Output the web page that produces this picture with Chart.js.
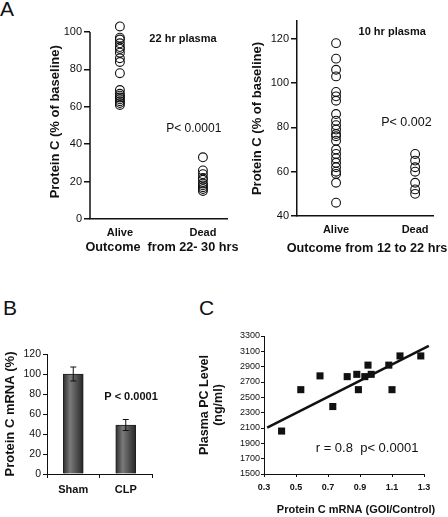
<!DOCTYPE html>
<html>
<head>
<meta charset="utf-8">
<script src="https://cdn.jsdelivr.net/npm/chart.js@4.4.1/dist/chart.umd.min.js"></script>
<style>
  body { margin: 0; background: #fff; }
  #fig { position: relative; width: 448px; height: 517px; font-family: 'Liberation Sans', Arial, sans-serif; color: #111; }
  .panel { position: absolute; }
  .letter { position: absolute; font-size: 21px; line-height: 1; }
</style>
</head>
<body>
<div id="fig">
  <div class="letter" style="left:0;top:-2px">A</div>
  <div class="letter" style="left:3px;top:297px">B</div>
  <div class="letter" style="left:199px;top:297px">C</div>
  <div class="panel" style="left:40px;top:16px;width:200px;height:250px"><canvas id="a22"></canvas></div>
  <div class="panel" style="left:240px;top:10px;width:208px;height:256px"><canvas id="a10"></canvas></div>
  <div class="panel" style="left:0;top:330px;width:165px;height:180px"><canvas id="mrna"></canvas></div>
  <div class="panel" style="left:195px;top:320px;width:253px;height:197px"><canvas id="plasma"></canvas></div>
</div>
<script>
// panel A - protein C as % of baseline
const outcomeLabels = ['Alive', 'Dead'];
const a22Alive = [103, 97, 96, 94, 92, 91, 89, 86, 84, 78, 69, 67, 66, 65, 64, 63, 62, 61];
const a22Dead = [33, 26, 24, 22, 21, 19, 18, 17, 16, 15];
const a22Ticks = [0, 20, 40, 60, 80, 100];
const a10Alive = [118, 111, 106, 103, 96, 94, 92, 86, 83, 81, 79, 77, 76, 74, 70, 68, 66, 64, 62, 60, 59, 55, 46];
const a10Dead = [68, 65, 62, 60, 55, 52, 50];
const a10Ticks = [40, 60, 80, 100, 120];

// panel B - liver mRNA
const mrnaGroups = ['Sham', 'CLP'];
const mrnaMean = [100, 49];
const mrnaErr = [7, 5.5];
const mrnaTicks = [0, 20, 40, 60, 80, 100, 120];

// panel C - plasma PC vs mRNA
const pcX = [0.41, 0.53, 0.65, 0.73, 0.82, 0.88, 0.89, 0.93, 0.95, 0.97, 1.08, 1.1, 1.15, 1.28];
const pcY = [2060, 2600, 2780, 2380, 2770, 2800, 2600, 2770, 2920, 2800, 2920, 2600, 3040, 3040];
const fitX = [0.32, 1.33];
const fitY = [2105, 3170];
const pcXTicks = [0.3, 0.5, 0.7, 0.9, 1.1, 1.3];
const pcYTicks = [1500, 1700, 1900, 2100, 2300, 2500, 2700, 2900, 3100, 3300];

const INK = '#111';
Chart.defaults.font.family = "'Liberation Sans', Arial, Helvetica, sans-serif";
Chart.defaults.color = INK;
Chart.defaults.animation = false;
Chart.defaults.responsive = true;
Chart.defaults.maintainAspectRatio = false;
Chart.defaults.plugins.legend.display = false;
Chart.defaults.plugins.tooltip.enabled = false;

// text placed at data coordinates (no max width squeeze)
const notes = {
  id: 'notes',
  afterDraw(chart, args, opts) {
    const { ctx, scales: { x, y } } = chart;
    ctx.save();
    ctx.fillStyle = INK;
    ctx.textAlign = 'center';
    ctx.textBaseline = 'middle';
    (opts.items || []).forEach(n => {
      ctx.font = n.font + " 'Liberation Sans', Arial, sans-serif";
      ctx.fillText(n.text, x.getPixelForValue(n.x), y.getPixelForValue(n.y));
    });
    ctx.restore();
  }
};

// y axis line that stops at the last tick (points may sit above it)
const axisLine = {
  id: 'axisLine',
  afterDraw(chart, args, opts) {
    if (opts.top === undefined) return;
    const { ctx, chartArea, scales: { y } } = chart;
    ctx.save();
    ctx.strokeStyle = INK;
    ctx.lineWidth = 1.5;
    ctx.beginPath();
    ctx.moveTo(chartArea.left, chartArea.bottom);
    ctx.lineTo(chartArea.left, y.getPixelForValue(opts.top));
    ctx.stroke();
    ctx.restore();
  }
};
Chart.register(notes, axisLine);

const errorBars = {
  id: 'errorBars',
  afterDatasetsDraw(chart) {
    const { ctx, scales: { x, y } } = chart;
    ctx.save();
    ctx.strokeStyle = INK;
    ctx.lineWidth = 1;
    mrnaMean.forEach((m, i) => {
      const px = x.getPixelForValue(i);
      const top = y.getPixelForValue(m + mrnaErr[i]);
      const bot = y.getPixelForValue(m - mrnaErr[i]);
      ctx.beginPath();
      ctx.moveTo(px, top); ctx.lineTo(px, bot);
      ctx.moveTo(px - 3, top); ctx.lineTo(px + 3, top);
      ctx.moveTo(px - 3, bot); ctx.lineTo(px + 3, bot);
      ctx.stroke();
    });
    ctx.restore();
  }
};

function column(values, x) {
  return values.map(v => ({ x: x, y: v }));
}

function dotPlot(id, alive, dead, o) {
  return new Chart(document.getElementById(id), {
    type: 'scatter',
    data: {
      datasets: [
        { data: column(alive, 1), clip: false },
        { data: column(dead, 2), clip: false }
      ]
    },
    options: {
      layout: { padding: { top: o.padTop, right: o.padRight } },
      elements: { point: { radius: 4.4, borderWidth: 1.1, borderColor: INK, backgroundColor: 'rgba(0,0,0,0)' } },
      scales: {
        x: {
          type: 'linear', min: o.xMin, max: o.xMax,
          afterBuildTicks: s => { s.ticks = outcomeLabels.map((_, i) => ({ value: i + 1 })); },
          afterFit: s => { s.height = o.xHeight; },
          grid: { display: false, drawTicks: false },
          border: { color: INK, width: 1.5 },
          ticks: { padding: 7, font: { size: 11, weight: 'bold' }, callback: (v, i) => outcomeLabels[i] }
        },
        y: {
          min: o.yMin, max: o.yMax,
          afterBuildTicks: s => { s.ticks = o.yTicks.map(v => ({ value: v })); },
          afterFit: s => { s.width = o.yWidth; },
          grid: { drawOnChartArea: false, tickLength: 6, color: INK, lineWidth: 1.5 },
          border: { display: o.lineTop === undefined, color: INK, width: 1.5 },
          ticks: { padding: 2, font: { size: 11 } },
          title: { display: true, text: 'Protein C (% of baseline)', font: { size: 13, weight: 'bold' }, padding: { top: o.titlePad, bottom: 0 } }
        }
      },
      plugins: { notes: { items: o.notes }, axisLine: { top: o.lineTop } }
    }
  });
}

dotPlot('a22', a22Alive, a22Dead, {
  padTop: 2.3, padRight: 13, xMin: 0.64, xMax: 2.29, xHeight: 47, yWidth: 50,
  yMin: 0, yMax: 104, lineTop: 100, yTicks: a22Ticks, titlePad: 7.2,
  notes: [
    { text: '22 hr plasma', x: 1.76, y: 96.4, font: 'bold 11px' },
    { text: 'P< 0.0001', x: 1.89, y: 48.2, font: '12px' },
    { text: 'Outcome  from 22- 30 hrs', x: 1.507, y: -15, font: 'bold 12.7px' }
  ]
});

dotPlot('a10', a10Alive, a10Dead, {
  padTop: 11, padRight: 15, xMin: 0.506, xMax: 2.226, xHeight: 50, yWidth: 57,
  yMin: 40, yMax: 128, yTicks: a10Ticks, titlePad: 9.2,
  notes: [
    { text: '10 hr plasma', x: 1.71, y: 123.2, font: 'bold 11px' },
    { text: 'P< 0.002', x: 1.89, y: 82, font: '12.5px' },
    { text: 'Outcome from 12 to 22 hrs', x: 1.392, y: 25.5, font: 'bold 12.7px' }
  ]
});

new Chart(document.getElementById('mrna'), {
  type: 'bar',
  data: {
    labels: mrnaGroups,
    datasets: [{
      data: mrnaMean,
      barThickness: 20,
      borderColor: '#1e1e1e',
      borderWidth: 1,
      backgroundColor(c) {
        const ch = c.chart;
        const xs = ch.scales.x;
        if (!ch.chartArea || !xs || c.dataIndex === undefined) return '#555';
        const cx = xs.getPixelForValue(c.dataIndex);
        const g = ch.ctx.createLinearGradient(cx - 10, 0, cx + 10, 0);
        g.addColorStop(0, '#2e2e2e');
        g.addColorStop(0.35, '#7a7a7a');
        g.addColorStop(1, '#262626');
        return g;
      }
    }]
  },
  options: {
    layout: { padding: { top: 24, right: 13 } },
    scales: {
      x: {
        afterFit: s => { s.height = 36; },
        grid: { drawOnChartArea: false, tickLength: 4, color: INK },
        border: { color: INK },
        ticks: { padding: 5, font: { size: 11, weight: 'bold' } }
      },
      y: {
        min: 0, max: 120,
        afterBuildTicks: s => { s.ticks = mrnaTicks.map(v => ({ value: v })); },
        afterFit: s => { s.width = 47; },
        grid: { drawOnChartArea: false, tickLength: 4, color: INK },
        border: { color: INK },
        ticks: { padding: 2, font: { size: 10.5 } },
        title: { display: true, text: 'Protein C mRNA (%)', font: { size: 13, weight: 'bold' }, padding: { top: 2.2, bottom: 0 } }
      }
    },
    plugins: {
      notes: { items: [{ text: 'P < 0.0001', x: 1.1, y: 77, font: 'bold 11px' }] }
    }
  },
  plugins: [errorBars]
});

new Chart(document.getElementById('plasma'), {
  type: 'scatter',
  data: {
    datasets: [
      {
        data: pcX.map((x, i) => ({ x: x, y: pcY[i] })),
        pointStyle: 'rect', radius: 5, borderWidth: 0, backgroundColor: INK, clip: false
      },
      {
        type: 'line',
        data: fitX.map((x, i) => ({ x: x, y: fitY[i] })),
        borderColor: INK, borderWidth: 2.5, pointRadius: 0, clip: false
      }
    ]
  },
  options: {
    layout: { padding: { top: 16, right: 24 } },
    scales: {
      x: {
        type: 'linear', min: 0.3, max: 1.3,
        afterBuildTicks: s => { s.ticks = pcXTicks.map(v => ({ value: v })); },
        afterFit: s => { s.height = 43; },
        grid: { drawOnChartArea: false, tickLength: 3, color: INK },
        border: { color: INK },
        ticks: { padding: 5, font: { size: 9, weight: 'bold' }, callback: v => v.toFixed(1) }
      },
      y: {
        min: 1500, max: 3300,
        afterBuildTicks: s => { s.ticks = pcYTicks.map(v => ({ value: v })); },
        afterFit: s => { s.width = 69; },
        grid: { drawOnChartArea: false, tickLength: 3, color: INK },
        border: { color: INK },
        ticks: { padding: 1, font: { size: 9 }, callback: v => String(v) },
        title: {
          display: true, text: ['Plasma PC Level', '(ng/ml)'],
          font: { size: 12.5, weight: 'bold', lineHeight: 1.05 }, padding: { top: 3.4, bottom: 0 }
        }
      }
    },
    plugins: {
      notes: {
        items: [
          { text: 'r = 0.8  p< 0.0001', x: 0.944, y: 1839, font: '13px' },
          { text: 'Protein C mRNA (GOI/Control)', x: 0.875, y: 1030, font: 'bold 11px' }
        ]
      }
    }
  }
});
</script>
</body>
</html>
